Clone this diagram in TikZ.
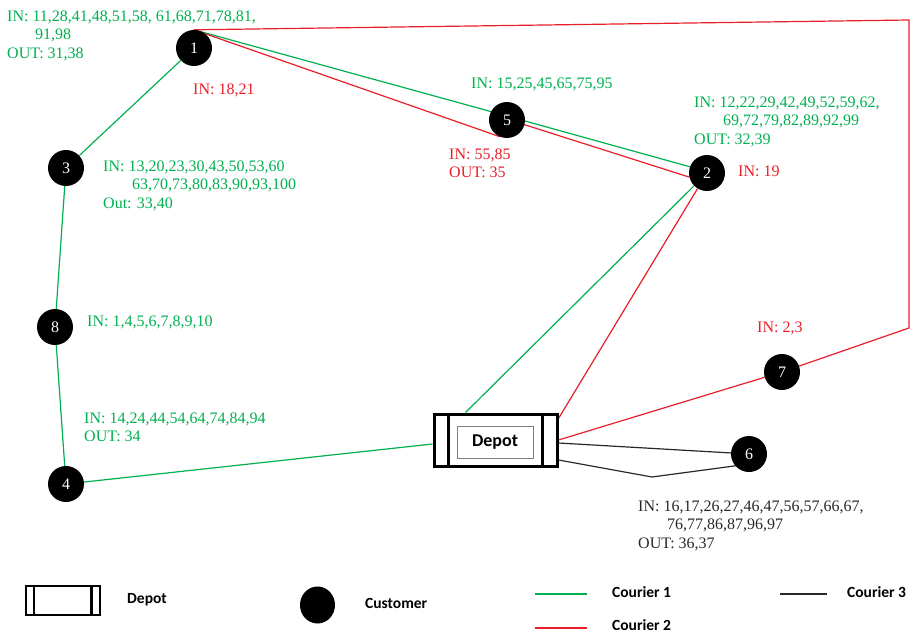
\documentclass[tikz,border=0pt]{standalone}
\usepackage{fontspec}
\setmainfont{Liberation Serif}
\newfontfamily\calfont{Carlito}
\usetikzlibrary{calc,backgrounds,shapes.geometric}
\definecolor{cgreen}{RGB}{0,176,80}
\definecolor{cred}{RGB}{232,30,40}
\definecolor{cblack}{RGB}{40,40,40}
\begin{document}
\begin{tikzpicture}[x=1pt,y=-1pt,
 cust/.style={circle,fill=black,minimum size=36pt,inner sep=0pt,text=white,font=\fontsize{16}{16}\selectfont},
 lbl/.style={anchor=north west,inner sep=0pt,align=left,font=\fontsize{16}{18.5}\selectfont},
 route/.style={line width=1.2pt,line join=round},
 c1/.style={route,draw=cgreen},
 c2/.style={route,draw=cred},
 c3/.style={route,draw=cblack},
 leg/.style={anchor=base west,inner sep=0pt,font=\calfont\bfseries\fontsize{15.5}{15.5}\selectfont}]
\useasboundingbox (0,0) rectangle (910,634);
% customers
\node[cust] (n1) at (194,48) {1};
\node[cust] (n5) at (507,120) {5};
\node[cust] (n2) at (707,173) {2};
\node[cust] (n3) at (66,168) {3};
\node[cust] (n8) at (55,327) {8};
\node[cust] (n4) at (66,484) {4};
\node[cust] (n7) at (782,372) {7};
\node[cust] (n6) at (749,454) {6};
% depot
\node[draw,fill=white,line width=3pt,minimum width=123pt,minimum height=52pt,inner sep=0pt] (dep) at (495.5,440) {};
\node[draw=gray,line width=1pt,minimum width=76pt,minimum height=32pt,inner sep=0pt,font=\calfont\bfseries\fontsize{18}{18}\selectfont] (depin) at (495,442) {Depot};
\draw[line width=3pt] ($(dep.north west)+(16,0)$) -- ($(dep.south west)+(16,0)$);
\draw[line width=3pt] ($(dep.north east)+(-16,0)$) -- ($(dep.south east)+(-16,0)$);
% routes
\begin{pgfonlayer}{background}
\coordinate (tr) at (909,20);
\coordinate (br) at (909,328);
\coordinate (b6) at (652,477);
\draw[c1] (n1) -- (n3) -- (n8) -- (n4) -- ($(dep.west)+(0,4)$);
\draw[c1] ($(dep.north)+(-30,0)$) -- (n2);
\draw[c1] (n1.north) -- ($(n5)+(0,-4)$) -- (n2.160);
\draw[c2] (n1.north) -- (n5.246) -- (n5.345) -- (n2.193);
\draw[c2] (n1.north) -- (tr) -- (br) -- (n7) -- (dep.east);
\draw[c2] (n2) -- ($(dep.north east)+(0,6)$);
\draw[c3] ($(dep.east)+(0,3)$) -- (n6);
\draw[c3] ($(dep.east)+(0,20)$) -- (b6) -- ($(n6)+(0,10)$);
\end{pgfonlayer}
% labels
\node[lbl,text=cgreen] (l1) at (7,10.5) {IN: 11,28,41,48,51,58, 61,68,71,78,81,\\\hspace*{28pt}91,98\\OUT: 31,38};
\node[lbl,text=cred] (l1r) at (193,84) {IN: 18,21};
\node[lbl,text=cgreen] (l5) at (471,77.5) {IN: 15,25,45,65,75,95};
\node[lbl,text=cred] (l5r) at (449,148.5) {IN: 55,85\\OUT: 35};
\node[lbl,text=cgreen] (l2) at (694,96.5) {IN: 12,22,29,42,49,52,59,62,\\\hspace*{29pt}69,72,79,82,89,92,99\\OUT: 32,39};
\node[lbl,text=cred] (l2r) at (738,165.5) {IN: 19};
\node[lbl,text=cgreen] (l3) at (103,160.5) {IN: 13,20,23,30,43,50,53,60\\\hspace*{29pt}63,70,73,80,83,90,93,100\\Out: 33,40};
\node[lbl,text=cgreen] (l8) at (87,315.5) {IN: 1,4,5,6,7,8,9,10};
\node[lbl,text=cred] (l7) at (757,321.5) {IN: 2,3};
\node[lbl,text=cgreen] (l4) at (84,412.5) {IN: 14,24,44,54,64,74,84,94\\OUT: 34};
\node[lbl,text=cblack] (l6) at (638,500.5) {IN: 16,17,26,27,46,47,56,57,66,67,\\\hspace*{29pt}76,77,86,87,96,97\\OUT: 36,37};
% legend
\node[draw,fill=white,line width=2.5pt,minimum width=74pt,minimum height=29pt,inner sep=0pt] (ldep) at (63,600.5) {};
\draw[line width=2.5pt] ($(ldep.north west)+(9,0)$) -- ($(ldep.south west)+(9,0)$);
\draw[line width=2.5pt] ($(ldep.north east)+(-10,0)$) -- ($(ldep.south east)+(-10,0)$);
\node[leg] (tdep) at (127,603) {Depot};
\node[ellipse,fill=black,minimum width=35pt,minimum height=37pt,inner sep=0pt] (lcust) at (317.5,605) {};
\node[leg] (tcust) at (365,608) {Customer};
\coordinate (g1a) at (535,594);
\coordinate (g1b) at (587,594);
\draw[c1] (g1a) -- (g1b);
\node[leg] (tc1) at (612,597) {Courier 1};
\coordinate (g2a) at (535,628);
\coordinate (g2b) at (587,628);
\draw[c2] (g2a) -- (g2b);
\node[leg] (tc2) at (612,630) {Courier 2};
\coordinate (g3a) at (780,594);
\coordinate (g3b) at (827,594);
\draw[c3] (g3a) -- (g3b);
\node[leg] (tc3) at (847,597) {Courier 3};
\end{tikzpicture}
\end{document}
